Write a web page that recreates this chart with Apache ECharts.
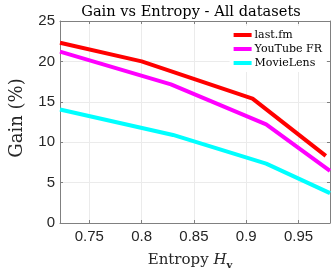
<!DOCTYPE html>
<html><head><meta charset="utf-8">
<script src="https://cdn.jsdelivr.net/npm/echarts@6/dist/echarts.min.js"></script>
<style>html,body{margin:0;padding:0;background:#fff}#c{width:332px;height:275px}</style>
</head><body><div id="c"></div>
<script>
var seriesNames = ['last.fm', 'YouTube FR', 'MovieLens'];
var lastfm = [[0.722, 22.3], [0.80, 20.0], [0.906, 15.4], [0.976, 8.3]];
var youtube = [[0.722, 21.2], [0.828, 17.15], [0.919, 12.2], [0.98, 6.45]];
var movielens = [[0.722, 14.05], [0.83, 10.9], [0.919, 7.35], [0.98, 3.7]];
var xTicks = [0.75, 0.8, 0.85, 0.9, 0.95];
var yTicks = [0, 5, 10, 15, 20, 25];
var colors = ['#ff0000', '#ff00ff', '#00ffff'];

var chart = echarts.init(document.getElementById('c'), null, {renderer: 'canvas'});
var sans = 'Liberation Sans';
var serif = 'DejaVu Serif';
var axisCol = '#262626';
var lineCol = '#808080';
function xAxisBase(pos, showLabel) {
  return {
    type: 'value', position: pos, min: 0.722, max: 0.98,
    axisLine: {show: true, onZero: false, lineStyle: {color: lineCol, width: 1}},
    axisTick: {show: true, inside: true, length: 3, customValues: xTicks, lineStyle: {color: lineCol}},
    axisLabel: {show: showLabel, customValues: xTicks, color: axisCol, fontFamily: sans, fontSize: 15, margin: 6,
      formatter: function (v) { return String(v); }},
    splitLine: {show: showLabel, lineStyle: {color: '#ebebeb', width: 1}}
  };
}
function yAxisBase(pos, showLabel) {
  return {
    type: 'value', position: pos, min: 0, max: 25, interval: 5,
    axisLine: {show: true, onZero: false, lineStyle: {color: lineCol, width: 1}},
    axisTick: {show: true, inside: true, length: 3, lineStyle: {color: lineCol}},
    axisLabel: {show: showLabel, customValues: yTicks, color: axisCol, fontFamily: sans, fontSize: 15, margin: 5},
    splitLine: {show: showLabel, lineStyle: {color: '#ebebeb', width: 1}}
  };
}
var xa = xAxisBase('bottom', true);
xa.name = '{t|Entropy }{h|H}{s|v}';
xa.nameLocation = 'middle';
xa.nameGap = 28;
xa.nameTextStyle = {padding: [0, 10, 0, 0], rich: {
  t: {fontFamily: serif, fontSize: 15, color: axisCol},
  h: {fontFamily: serif, fontStyle: 'italic', fontSize: 15, color: axisCol},
  s: {fontFamily: serif, fontWeight: 'bold', fontSize: 10, color: axisCol, verticalAlign: 'bottom', padding: [9, 0, 0, 0]}
}};
var ya = yAxisBase('left', true);
ya.name = 'Gain (%)';
ya.nameLocation = 'middle';
ya.nameGap = 34;
ya.nameTextStyle = {fontFamily: serif, fontSize: 18, color: axisCol, padding: [0, 0, 0, 8]};

var datas = [lastfm, youtube, movielens];
var series = datas.map(function (d, i) {
  return {
    name: seriesNames[i], type: 'line', data: d, symbol: 'none',
    lineStyle: {color: colors[i], width: 4}, itemStyle: {color: colors[i]},
    xAxisIndex: 0, yAxisIndex: 0, z: 3 - i + 2
  };
});

chart.setOption({
  animation: false,
  backgroundColor: '#fff',
  title: {text: 'Gain vs Entropy - All datasets', left: 186, top: 0, textAlign: 'center',
    textStyle: {fontFamily: serif, fontWeight: 'normal', fontSize: 14.6, color: '#000'}},
  grid: {left: 44, right: 2, top: 21, bottom: 43, containLabel: false},
  legend: {
    orient: 'vertical', right: 6, top: 26, itemGap: 2,
    itemWidth: 18, itemHeight: 4, icon: 'rect',
    backgroundColor: '#fff', padding: [3, 4, 3, 4],
    textStyle: {fontFamily: serif, fontSize: 11, color: '#000', padding: [0, 0, 0, -2], lineHeight: 12},
    data: seriesNames
  },
  xAxis: [xa, xAxisBase('top', false)],
  yAxis: [ya, yAxisBase('right', false)],
  series: series
});
</script></body></html>
